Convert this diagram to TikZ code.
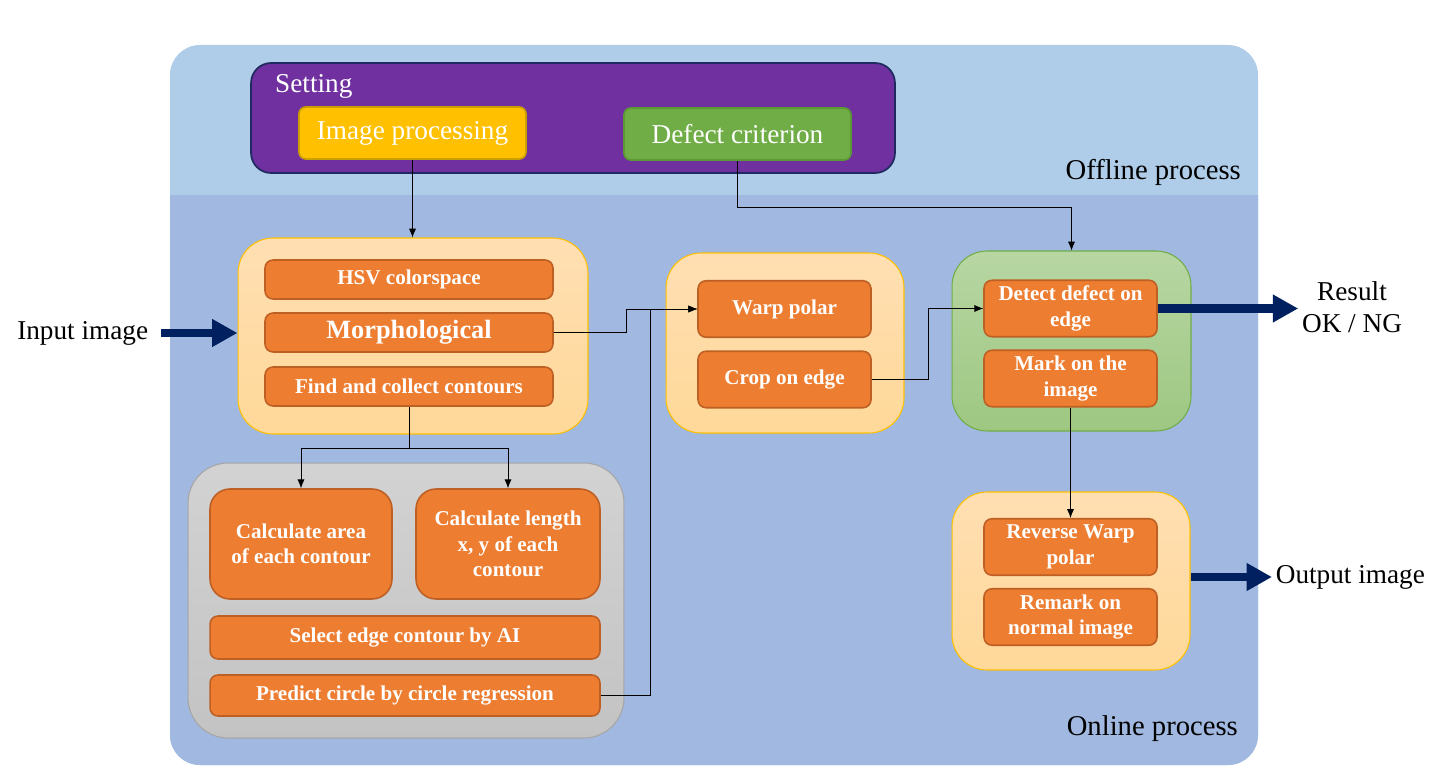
\documentclass[tikz,border=0pt]{standalone}
\usepackage{fontspec}
\setmainfont{Liberation Serif}
\usetikzlibrary{arrows.meta}

\definecolor{offblue}{HTML}{AFCDE9}
\definecolor{onblue}{HTML}{A1B8E0}
\definecolor{setpurple}{HTML}{7030A0}
\definecolor{setborder}{HTML}{1F2A60}
\definecolor{ipgold}{HTML}{FFC000}
\definecolor{ipborder}{HTML}{C9A000}
\definecolor{dcgreen}{HTML}{70AD47}
\definecolor{dcborder}{HTML}{5A9A35}
\definecolor{taskorange}{HTML}{ED7D31}
\definecolor{taskborder}{HTML}{BE5F24}
\definecolor{navy}{HTML}{002060}

\begin{document}
\begin{tikzpicture}[x=0.02cm, y=-0.02cm,
    bigtext/.style={font=\fontsize{15.5}{18}\selectfont},
    conn/.style={thin, -{Latex[length=5pt,width=4pt]}},
    bigarrow/.style={navy, line width=5pt, -{Triangle[length=14.5pt,width=15pt]}},
    task/.style={draw=taskborder, fill=taskorange, line width=0.9pt, rounded corners=0.16cm,
        inner sep=0pt, text=white, align=center, font=\bfseries\fontsize{12}{14.5}\selectfont},
    widetask/.style={task, minimum width=5.76cm, minimum height=0.78cm},
    smalltask/.style={task, minimum width=3.46cm, minimum height=1.13cm},
    settask/.style={bigtext, line width=1pt, rounded corners=0.14cm, inner sep=0pt, text=white,
        minimum width=4.54cm, minimum height=1.04cm},
    yellowgroup/.style={draw=ipgold, top color=yellow!15!orange!30!white, bottom color=yellow!25!orange!40!white,
        line width=0.6pt, rounded corners=0.7cm, inner sep=0pt},
    greengroup/.style={draw=dcgreen, top color=dcgreen!50!white, bottom color=dcgreen!68!white,
        line width=0.6pt, rounded corners=0.7cm, inner sep=0pt},
    graygroup/.style={draw=gray!70, top color=gray!35, bottom color=gray!47,
        line width=0.6pt, rounded corners=0.8cm, inner sep=0pt}]

    \useasboundingbox (0,0) rectangle (1435,773);

    % Draw the offline and online areas
    \fill[offblue, rounded corners=0.6cm] (170,45) rectangle (1258,765);
    \begin{scope}
        \clip (170,196) rectangle (1258,773);
        \fill[onblue, rounded corners=0.6cm] (170,45) rectangle (1258,765);
    \end{scope}
    \node[font=\fontsize{16.3}{19}\selectfont, anchor=east] (offline) at (1247,172) {Offline process};
    \node[font=\fontsize{16.3}{19}\selectfont, anchor=east] (online) at (1244,729) {Online process};

    % Draw the setting box
    \node[draw=setborder, fill=setpurple, line width=1pt, rounded corners=0.4cm,
        minimum width=12.88cm, minimum height=2.2cm] (setting) at (573,118) {};
    \node[bigtext, text=white, anchor=west] (settxt) at (269,86) {Setting};
    \node[settask, draw=ipborder, fill=ipgold] (ip) at (412.5,133) {Image processing};
    \node[settask, draw=dcborder, fill=dcgreen] (dc) at (737.5,134) {Defect criterion};

    % Draw the image processing steps
    \node[yellowgroup, minimum width=7cm, minimum height=3.92cm] (grpA) at (413,336) {};
    \node[widetask] (hsv) at (409,279.5) {HSV colorspace};
    \node[widetask, font=\bfseries\fontsize{15}{18}\selectfont] (morph) at (409,332.5) {Morphological};
    \node[widetask] (find) at (409,386.5) {Find and collect contours};

    \node[graygroup, minimum width=8.72cm, minimum height=5.5cm] (grpB) at (406,600.5) {};
    \node[task, rounded corners=0.4cm, minimum width=3.64cm, minimum height=2.2cm] (area) at (301,544) {Calculate area\\of each contour};
    \node[task, rounded corners=0.4cm, minimum width=3.68cm, minimum height=2.2cm] (len) at (508,544) {Calculate length\\x, y of each\\contour};
    \node[task, minimum width=7.8cm, minimum height=0.86cm] (select) at (405,637.5) {Select edge contour by AI};
    \node[task, minimum width=7.8cm, minimum height=0.82cm] (pred) at (405,695.5) {Predict circle by circle regression};

    \node[yellowgroup, minimum width=4.76cm, minimum height=3.6cm] (grpC) at (785,343) {};
    \node[smalltask] (warp) at (784.5,309) {Warp polar};
    \node[smalltask] (crop) at (784.5,379.5) {Crop on edge};

    \node[greengroup, minimum width=4.78cm, minimum height=3.6cm] (grpD) at (1071.5,341) {};
    \node[smalltask] (det) at (1070.5,308.5) {Detect defect on\\edge};
    \node[smalltask] (mark) at (1070.5,378.5) {Mark on the\\image};

    \node[yellowgroup, minimum width=4.76cm, minimum height=3.56cm] (grpE) at (1071,581) {};
    \node[smalltask] (rev) at (1070.5,547) {Reverse Warp\\polar};
    \node[smalltask] (remark) at (1070.5,617) {Remark on\\normal image};

    % Draw the inputs and outputs
    \node[bigtext, anchor=east, inner sep=2pt] (inp) at (152,333) {Input image};
    \node[bigtext, align=center, inner sep=2pt] (res) at (1352,307) {Result\\OK / NG};
    \node[bigtext, anchor=west, inner sep=2pt] (outp) at (1272,577) {Output image};

    \draw[bigarrow] ([xshift=0.18cm]inp.east) -- (inp.east -| grpA.west);
    \draw[bigarrow] (det.east) -- (det.east -| res.west);
    \draw[bigarrow] (grpE.east |- outp.west) -- (outp.west);

    % Draw the connections
    \draw[conn] (ip.south) -- (ip.south |- grpA.north);
    \draw[conn] (dc.south) -- ++(0,46) -| (grpD.north);
    \draw[conn] (morph.east) -- ++(73,0) |- (warp.west);
    \draw[conn] (pred.east) -- ++(50,0) |- (warp.west);
    \draw[conn] (find.south) -- ++(0,42) -| (area.north);
    \draw[conn] (find.south) -- ++(0,42) -| (len.north);
    \draw[conn] (crop.east) -- ++(57,0) |- (det.west);
    \draw[conn] (mark.south) -- (rev.north);

\end{tikzpicture}
\end{document}
